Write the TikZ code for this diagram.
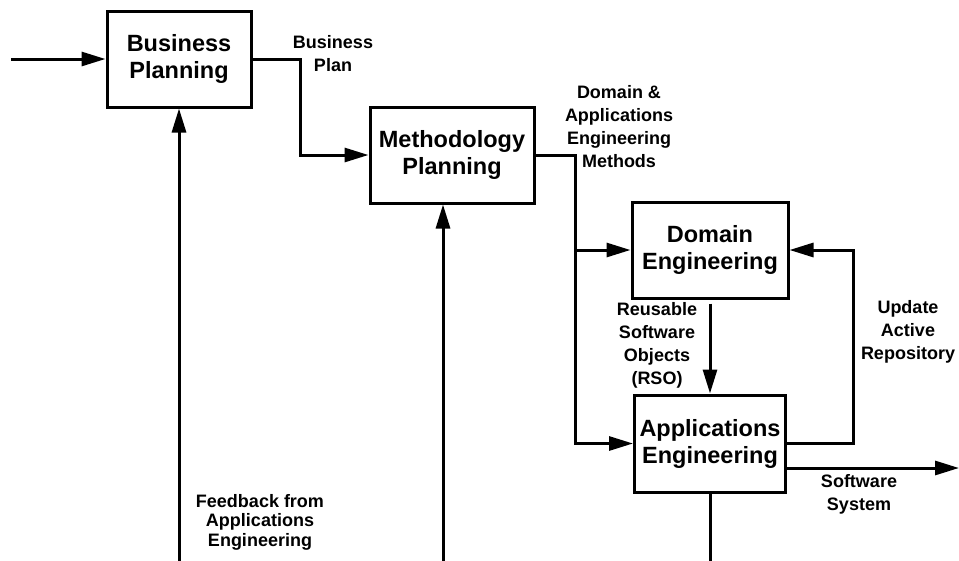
\documentclass[tikz,border=0pt]{standalone}
\usepackage{fontspec}
\setmainfont{Liberation Sans}
\usetikzlibrary{positioning,arrows.meta}

\begin{document}
\begin{tikzpicture}[
    x=1pt, y=-1pt,
    % Box and label styles
    stage/.style={rectangle, draw=black, line width=3pt, inner sep=0pt, minimum height=96pt, align=center, font=\fontsize{23.5}{27}\selectfont\bfseries},
    flowlabel/.style={align=center, inner sep=0pt, font=\fontsize{18}{23}\selectfont\bfseries},
    % Arrow styles
    flow/.style={line width=3pt, -{Triangle[length=24pt,width=14pt]}},
    plain/.style={line width=3pt}
]
\useasboundingbox (0,0) rectangle (959,560);

% Stages
\node[stage, minimum width=144pt] (bp) at (179, 59) {Business\\Planning};
\node[stage, minimum width=164pt] (mp) at (452, 155) {Methodology\\Planning};
\node[stage, minimum width=156pt] (de) at (710, 250) {Domain\\Engineering};
\node[stage, minimum width=151pt, minimum height=97pt] (ae) at (710, 443.5) {Applications\\Engineering};

% Free ends
\coordinate (in) at (11, 59);
\coordinate (split) at (574, 250);
\coordinate (out) at (959, 468);
\coordinate (fbone) at (179, 562);
\coordinate (fbtwo) at (443, 562);
\coordinate (fbthree) at (710, 562);

% Connections
\draw[flow] (in) -- (bp.west);
\draw[flow] (bp.east) -- ++(48,0) |- (mp.west);
\draw[flow] (mp.east) -- ++(40,0) |- (ae.west);
\draw[flow] (split) -- (de.west);
\draw[flow] ([yshift=-4pt]de.south) -- (ae.north);
\draw[flow] (ae.east) -- ++(66,0) |- (de.east);
\draw[flow] (ae.east |- out) -- (out);

% Feedback lines
\draw[flow] (fbone) -- (bp.south);
\draw[flow] (fbtwo) -- (fbtwo |- mp.south);
\draw[plain] (ae.south) -- (fbthree);

% Labels
\node[flowlabel] (lbplan) at (333, 54) {Business\\Plan};
\node[flowlabel] (lbmethods) at (619, 127) {Domain \&\\Applications\\Engineering\\Methods};
\node[flowlabel] (lbrso) at (657, 345) {Reusable\\Software\\Objects\\(RSO)};
\node[flowlabel] (lbupdate) at (908, 332) {Update\\Active\\Repository};
\node[flowlabel] (lbsystem) at (859, 494) {Software\\System};
\node[flowlabel, font=\fontsize{18}{19.5}\selectfont\bfseries] (lbfeedback) at (260, 522) {Feedback from\\Applications\\Engineering};

\end{tikzpicture}
\end{document}
